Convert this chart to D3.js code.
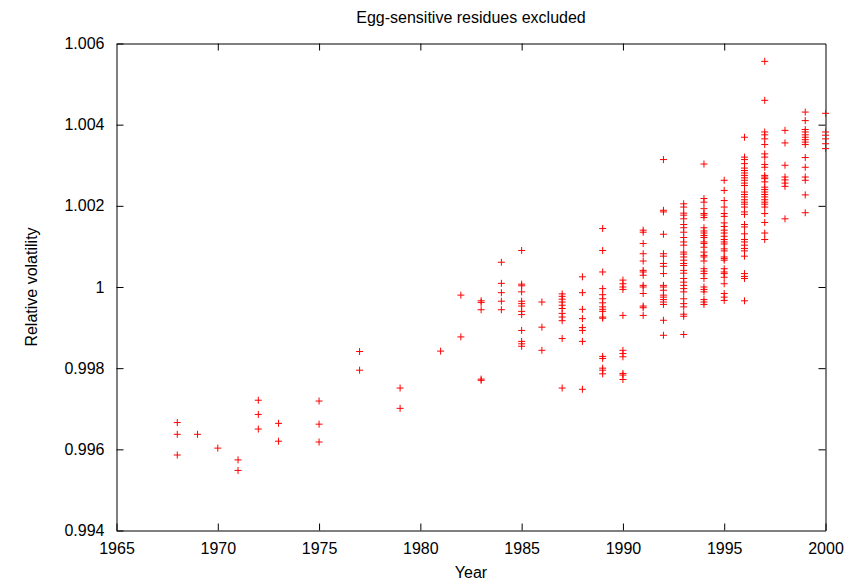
<!DOCTYPE html>
<html>
<head>
<meta charset="utf-8">
<script src="https://cdn.jsdelivr.net/npm/d3@7/dist/d3.min.js"></script>
<style>
  html, body { margin: 0; padding: 0; background: #fff; }
  svg { display: block; }
  text { font-family: "Liberation Sans", Arial, Helvetica, sans-serif; fill: #000; }
</style>
</head>
<body>
<svg id="chart" width="867" height="584"></svg>
<script>
// Sample years and the relative volatility values measured in each year
const years = [1968, 1969, 1970, 1971, 1972, 1973, 1975, 1977, 1979, 1981, 1982, 1983, 1984,
  1985, 1986, 1987, 1988, 1989, 1990, 1991, 1992, 1993, 1994, 1995, 1996, 1997, 1998, 1999, 2000];

const volatility = [
  [0.99666, 0.99637, 0.99586],
  [0.99637],
  [0.99603],
  [0.99574, 0.99548],
  [0.99721, 0.99686, 0.99650],
  [0.99664, 0.99620],
  [0.99719, 0.99662, 0.99618],
  [0.99841, 0.99795],
  [0.99751, 0.99701],
  [0.99842],
  [0.99980, 0.99877],
  [0.99966, 0.99962, 0.99944, 0.99773, 0.99770],
  [1.00061, 1.00009, 0.99986, 0.99965, 0.99944],
  [1.00090, 1.00007, 1.00003, 0.99988, 0.99965, 0.99959, 0.99953, 0.99940, 0.99932,
   0.99893, 0.99866, 0.99860, 0.99854],
  [0.99963, 0.99901, 0.99844],
  [0.99983, 0.99977, 0.99970, 0.99963, 0.99955, 0.99947, 0.99935, 0.99926, 0.99917,
   0.99873, 0.99751],
  [1.00025, 0.99986, 0.99945, 0.99922, 0.99900, 0.99893, 0.99866, 0.99748],
  [1.00144, 1.00090, 1.00037, 0.99996, 0.99981, 0.99971, 0.99961, 0.99951, 0.99945,
   0.99940, 0.99926, 0.99923, 0.99829, 0.99824, 0.99800, 0.99795, 0.99786],
  [1.00017, 1.00008, 1.00000, 0.99994, 0.99930, 0.99844, 0.99836, 0.99828, 0.99787,
   0.99783, 0.99772],
  [1.00140, 1.00135, 1.00107, 1.00082, 1.00064, 1.00041, 1.00037, 1.00029, 1.00004,
   1.00000, 0.99984, 0.99953, 0.99949, 0.99930],
  [1.00314, 1.00189, 1.00185, 1.00130, 1.00082, 1.00076, 1.00058, 1.00051, 1.00033,
   1.00004, 1.00000, 0.99992, 0.99980, 0.99975, 0.99969, 0.99963, 0.99957, 0.99918,
   0.99881],
  [1.00205, 1.00197, 1.00182, 1.00177, 1.00168, 1.00154, 1.00146, 1.00135, 1.00122,
   1.00111, 1.00103, 1.00086, 1.00081, 1.00074, 1.00066, 1.00058, 1.00053, 1.00041,
   1.00034, 1.00021, 1.00012, 1.00004, 0.99996, 0.99988, 0.99971, 0.99959, 0.99951,
   0.99933, 0.99928, 0.99883],
  [1.00303, 1.00218, 1.00209, 1.00193, 1.00181, 1.00177, 1.00171, 1.00146, 1.00138,
   1.00133, 1.00127, 1.00122, 1.00111, 1.00107, 1.00098, 1.00086, 1.00078, 1.00074,
   1.00064, 1.00045, 1.00039, 1.00033, 1.00021, 1.00000, 0.99994, 0.99988, 0.99969,
   0.99963, 0.99957],
  [1.00263, 1.00238, 1.00213, 1.00197, 1.00181, 1.00174, 1.00158, 1.00149, 1.00140,
   1.00133, 1.00125, 1.00117, 1.00111, 1.00106, 1.00094, 1.00089, 1.00074, 1.00070,
   1.00066, 1.00045, 1.00037, 1.00033, 1.00024, 1.00008, 0.99984, 0.99975, 0.99967],
  [1.00369, 1.00320, 1.00314, 1.00304, 1.00293, 1.00287, 1.00281, 1.00275, 1.00269,
   1.00263, 1.00256, 1.00250, 1.00234, 1.00228, 1.00222, 1.00215, 1.00209, 1.00204,
   1.00197, 1.00185, 1.00179, 1.00154, 1.00148, 1.00131, 1.00117, 1.00111, 1.00103,
   1.00095, 1.00089, 1.00076, 1.00033, 1.00026, 1.00021, 0.99966],
  [1.00556, 1.00460, 1.00382, 1.00375, 1.00365, 1.00351, 1.00328, 1.00320, 1.00302,
   1.00295, 1.00275, 1.00271, 1.00267, 1.00259, 1.00246, 1.00240, 1.00234, 1.00228,
   1.00222, 1.00215, 1.00209, 1.00204, 1.00197, 1.00181, 1.00159, 1.00133, 1.00117],
  [1.00386, 1.00355, 1.00300, 1.00271, 1.00264, 1.00256, 1.00248, 1.00168],
  [1.00431, 1.00410, 1.00388, 1.00382, 1.00375, 1.00369, 1.00363, 1.00357, 1.00351,
   1.00319, 1.00295, 1.00271, 1.00263, 1.00227, 1.00183],
  [1.00428, 1.00382, 1.00374, 1.00365, 1.00353, 1.00341]
];

// Axis ticks and labels
const xTicks = [1965, 1970, 1975, 1980, 1985, 1990, 1995, 2000];
const yTicks = [0.994, 0.996, 0.998, 1.000, 1.002, 1.004, 1.006];
const yTickLabels = ["0.994", "0.996", "0.998", "1", "1.002", "1.004", "1.006"];

const titleText = "Egg-sensitive residues excluded";
const xLabel = "Year";
const yLabel = "Relative volatility";

// Flatten into points
const points = [];
years.forEach((yr, i) => volatility[i].forEach(v => points.push({ year: yr, value: v })));

const svg = d3.select("#chart");
const plot = { left: 116.5, right: 825.5, top: 43.5, bottom: 530.5 };

const x = d3.scaleLinear().domain([1965, 2000]).range([plot.left, plot.right]);
const y = d3.scaleLinear().domain([0.994, 1.006]).range([plot.bottom, plot.top]);

const fontSize = 16;
const tickLen = 7;

// Bottom axis with labels, ticks pointing inward
const gx = svg.append("g")
  .attr("transform", `translate(0,${plot.bottom})`)
  .call(d3.axisBottom(x).tickValues(xTicks).tickFormat(d3.format("d"))
    .tickSizeInner(-tickLen).tickSizeOuter(0).tickPadding(12));

// Top mirror ticks
const gxTop = svg.append("g")
  .attr("transform", `translate(0,${plot.top})`)
  .call(d3.axisTop(x).tickValues(xTicks).tickFormat("")
    .tickSizeInner(-tickLen).tickSizeOuter(0));

// Left axis with labels
const gy = svg.append("g")
  .attr("transform", `translate(${plot.left},0)`)
  .call(d3.axisLeft(y).tickValues(yTicks).tickFormat((d, i) => yTickLabels[i])
    .tickSizeInner(-tickLen).tickSizeOuter(0).tickPadding(12));

// Right mirror ticks
const gyRight = svg.append("g")
  .attr("transform", `translate(${plot.right},0)`)
  .call(d3.axisRight(y).tickValues(yTicks).tickFormat("")
    .tickSizeInner(-tickLen).tickSizeOuter(0));

[gx, gxTop, gy, gyRight].forEach(g => {
  g.select(".domain").attr("stroke", "#000").attr("stroke-width", 1);
  g.selectAll(".tick line").attr("stroke", "#000").attr("stroke-width", 1);
  g.selectAll(".tick text").attr("font-size", fontSize)
    .attr("font-family", "'Liberation Sans', Arial, sans-serif").attr("fill", "#000");
});

// Skip mirror tick marks at the corners (the frame already covers them)
[gxTop, gyRight].forEach(g => g.selectAll(".tick").filter((d, i, n) => i === 0 || i === n.length - 1).remove());

// Points drawn as "+" markers
const arm = 3.5;
const marks = svg.append("g")
  .attr("stroke", "#ff0000")
  .attr("stroke-width", 1)
  .attr("fill", "none");

marks.selectAll("path")
  .data(points)
  .join("path")
  .attr("d", d => {
    const px = x(d.year), py = y(d.value);
    return `M${px - arm},${py}H${px + arm}M${px},${py - arm}V${py + arm}`;
  });

// Title and axis labels
svg.append("text")
  .attr("x", (plot.left + plot.right) / 2)
  .attr("y", 23)
  .attr("text-anchor", "middle")
  .attr("font-size", fontSize)
  .text(titleText);

svg.append("text")
  .attr("x", (plot.left + plot.right) / 2)
  .attr("y", 578)
  .attr("text-anchor", "middle")
  .attr("font-size", fontSize)
  .text(xLabel);

svg.append("text")
  .attr("transform", `translate(37,${(plot.top + plot.bottom) / 2}) rotate(-90)`)
  .attr("text-anchor", "middle")
  .attr("font-size", fontSize)
  .text(yLabel);
</script>
</body>
</html>
